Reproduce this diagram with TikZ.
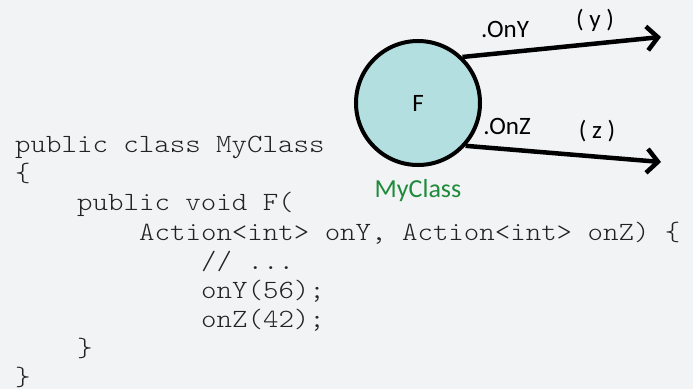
\documentclass[tikz,border=0pt]{standalone}
\usepackage{fontspec}
\setmainfont{Carlito}
\newfontfamily\codefont[FakeStretch=1.12]{Latin Modern Mono Light}
\usetikzlibrary{arrows.meta}
\definecolor{bgcol}{HTML}{F2F3F5}
\definecolor{circfill}{HTML}{B3DFE0}
\definecolor{labgreen}{HTML}{1E8B3C}
\definecolor{codecol}{HTML}{222222}
\tikzset{
  codeline/.style={anchor=base west, inner sep=0pt, font=\codefont\fontsize{26.3}{29}\selectfont, text=codecol},
  lab/.style={inner sep=0pt, font=\fontsize{25}{28}\selectfont, text=black},
  flow/.style={line width=4.5pt, -{Straight Barb[length=11pt,width=24pt,line width=4.5pt]}},
}
\begin{document}
\begin{tikzpicture}[x=1pt,y=-1pt]
\fill[bgcol] (0,0) rectangle (693,389);
\useasboundingbox (0,0) rectangle (693,389);
\node[circle, draw=black, line width=4pt, fill=circfill, minimum size=124pt, inner sep=0pt] (F) at (418,103) {};
\node[lab] (Flab) at (418,103) {F};
\node[lab, text=labgreen, anchor=base, font=\fontsize{26}{30}\selectfont] (cls) at (418,197) {MyClass};
\coordinate (ytip) at (661,37);
\coordinate (ztip) at (661,162);
\draw[flow] (F.46) -- (ytip);
\draw[flow] (F.-42) -- (ztip);
\node[lab, anchor=base] (ony) at (505,37) {.OnY};
\node[lab, anchor=base] (yl) at (595,27) {( y )};
\node[lab, anchor=base] (onz) at (507,134) {.OnZ};
\node[lab, anchor=base] (zl) at (597,138) {( z )};
\node[codeline] (c1) at (15,152) {public class MyClass};
\node[codeline] (c2) at (15,181) {\{};
\node[codeline] (c3) at (77,210) {public void F(};
\node[codeline] (c4) at (139,240) {Action<int> onY, Action<int> onZ) \{};
\node[codeline] (c5) at (201,269) {// ...};
\node[codeline] (c6) at (201,298) {onY(56);};
\node[codeline] (c7) at (201,327) {onZ(42);};
\node[codeline] (c8) at (77,356) {\}};
\node[codeline] (c9) at (15,385) {\}};
\end{tikzpicture}
\end{document}
